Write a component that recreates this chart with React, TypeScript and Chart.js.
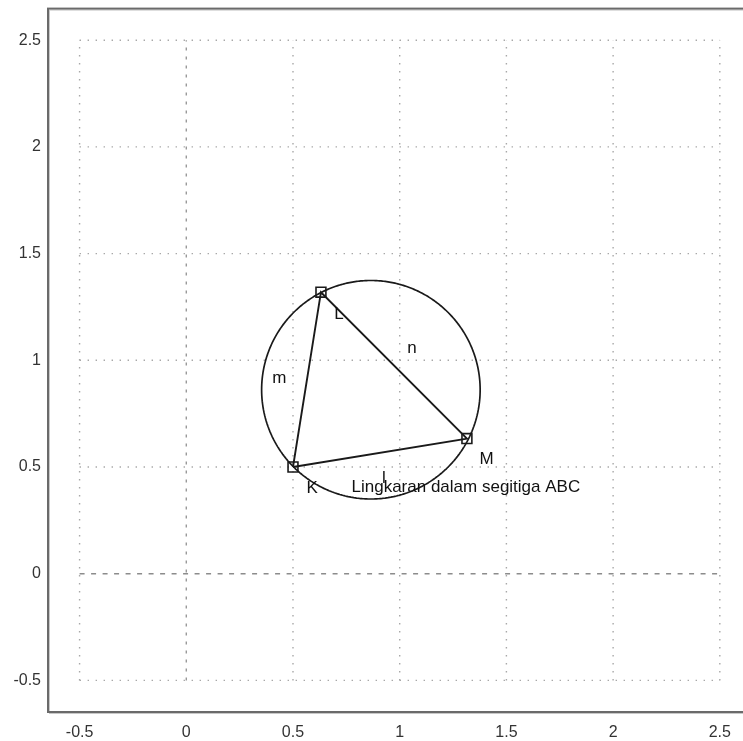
import React, { useEffect, useRef } from "react";
import { Chart, registerables } from "chart.js";

Chart.register(...registerables);

// ---- data ----
const xTicks = [-0.5, 0, 0.5, 1, 1.5, 2, 2.5];
const yTicks = [-0.5, 0, 0.5, 1, 1.5, 2, 2.5];
const axisMin = -0.648;
const axisMax = 2.648;

const vertexNames = ["K", "L", "M"];
const vertexX = [0.5, 0.631, 1.315];
const vertexY = [0.5, 1.319, 0.633];

const circleCenterX = 0.865;
const circleCenterY = 0.862;
const circleRadius = 0.512;

const labelTexts = ["K", "L", "M", "m", "n", "l", "Lingkaran dalam segitiga ABC"];
const labelX = [0.59, 0.716, 1.407, 0.436, 1.057, 0.926, 1.31];
const labelY = [0.398, 1.216, 0.538, 0.917, 1.057, 0.445, 0.403];

const FONT = "'Liberation Sans', Arial, sans-serif";

export default function App() {
  const ref = useRef<HTMLCanvasElement>(null);

  useEffect(() => {
    if (!ref.current) return;

    const gridSets: any[] = [];
    xTicks.forEach((v) => {
      gridSets.push({
        data: [
          { x: v, y: yTicks[0] },
          { x: v, y: yTicks[yTicks.length - 1] },
        ],
        borderColor: v === 0 ? "#999" : "#a8a8a8",
        borderWidth: v === 0 ? 1.4 : 1.4,
        borderDash: v === 0 ? [3, 6] : [1.4, 6.6],
        showLine: true,
        pointRadius: 0,
        order: 10,
      });
    });
    yTicks.forEach((v) => {
      gridSets.push({
        data: [
          { x: xTicks[0], y: v },
          { x: xTicks[xTicks.length - 1], y: v },
        ],
        borderColor: v === 0 ? "#8c8c8c" : "#a8a8a8",
        borderWidth: v === 0 ? 1.5 : 1.4,
        borderDash: v === 0 ? [5, 6.5] : [1.4, 6.6],
        showLine: true,
        pointRadius: 0,
        order: 10,
      });
    });

    const circlePts: { x: number; y: number }[] = [];
    for (let i = 0; i <= 240; i++) {
      const a = (i / 240) * Math.PI * 2;
      circlePts.push({
        x: circleCenterX + circleRadius * Math.cos(a),
        y: circleCenterY + circleRadius * Math.sin(a),
      });
    }

    const triPts = vertexNames.map((_, i) => ({ x: vertexX[i], y: vertexY[i] }));
    triPts.push({ x: vertexX[0], y: vertexY[0] });

    const framePlugin = {
      id: "frame",
      afterDatasetsDraw(chart: any) {
        const ctx = chart.ctx;
        const xs = chart.scales.x;
        const ys = chart.scales.y;
        ctx.save();
        ctx.fillStyle = "#111";
        ctx.font = `17px ${FONT}`;
        ctx.textAlign = "center";
        ctx.textBaseline = "middle";
        labelTexts.forEach((t, i) => {
          ctx.fillText(t, xs.getPixelForValue(labelX[i]), ys.getPixelForValue(labelY[i]));
        });
        const a = chart.chartArea;
        ctx.strokeStyle = "#c8c8c8";
        ctx.lineWidth = 1;
        ctx.strokeRect(a.left + 1.5, a.top + 1.5, a.right - a.left, a.bottom - a.top);
        ctx.strokeStyle = "#6a6a6a";
        ctx.lineWidth = 2;
        ctx.strokeRect(a.left, a.top, a.right - a.left, a.bottom - a.top);
        ctx.restore();
      },
    };

    const tickCfg = (isX: boolean) => ({
      type: "linear" as const,
      min: axisMin,
      max: axisMax,
      grid: { display: false, drawTicks: false },
      border: { display: false },
      ticks: {
        autoSkip: false,
        maxRotation: 0,
        color: "#333",
        font: { family: FONT, size: 16 },
        padding: isX ? 11 : 7,
        callback: (v: any) => String(v),
      },
      afterBuildTicks: (axis: any) => {
        axis.ticks = (isX ? xTicks : yTicks).map((v) => ({ value: v }));
      },
      afterFit: (axis: any) => {
        if (isX) axis.height = 29;
        else axis.width = 48;
        axis.paddingTop = 0;
        axis.paddingBottom = 0;
        axis.paddingLeft = 0;
        axis.paddingRight = 0;
      },
    });

    const chart = new Chart(ref.current, {
      type: "scatter",
      data: {
        datasets: [
          ...gridSets,
          {
            data: circlePts,
            showLine: true,
            tension: 0.0001,
            borderColor: "#1a1a1a",
            borderWidth: 1.7,
            pointRadius: 0,
            order: 2,
          },
          {
            data: triPts,
            showLine: true,
            borderColor: "#1a1a1a",
            borderWidth: 1.9,
            pointRadius: 0,
            order: 1,
          },
          {
            data: vertexNames.map((_, i) => ({ x: vertexX[i], y: vertexY[i] })),
            showLine: false,
            pointStyle: "rect",
            pointRadius: 7,
            pointBorderWidth: 1.6,
            pointBorderColor: "#1a1a1a",
            pointBackgroundColor: "rgba(255,255,255,0)",
            order: 0,
          },
        ],
      },
      options: {
        responsive: false,
        animation: false,
        devicePixelRatio: 1,
        layout: { padding: { top: 6, right: 6, left: 0, bottom: 0 } },
        plugins: { legend: { display: false }, tooltip: { enabled: false } },
        scales: { x: tickCfg(true), y: tickCfg(false) } as any,
      },
      plugins: [framePlugin],
    });
    return () => chart.destroy();
  }, []);

  return (
    <div
      style={{
        position: "absolute",
        left: 0,
        top: 0,
        width: 743,
        height: 741,
        overflow: "hidden",
        background: "#fff",
      }}
    >
      <canvas ref={ref} width={760} height={741} style={{ display: "block", width: 760, height: 741 }} />
    </div>
  );
}
